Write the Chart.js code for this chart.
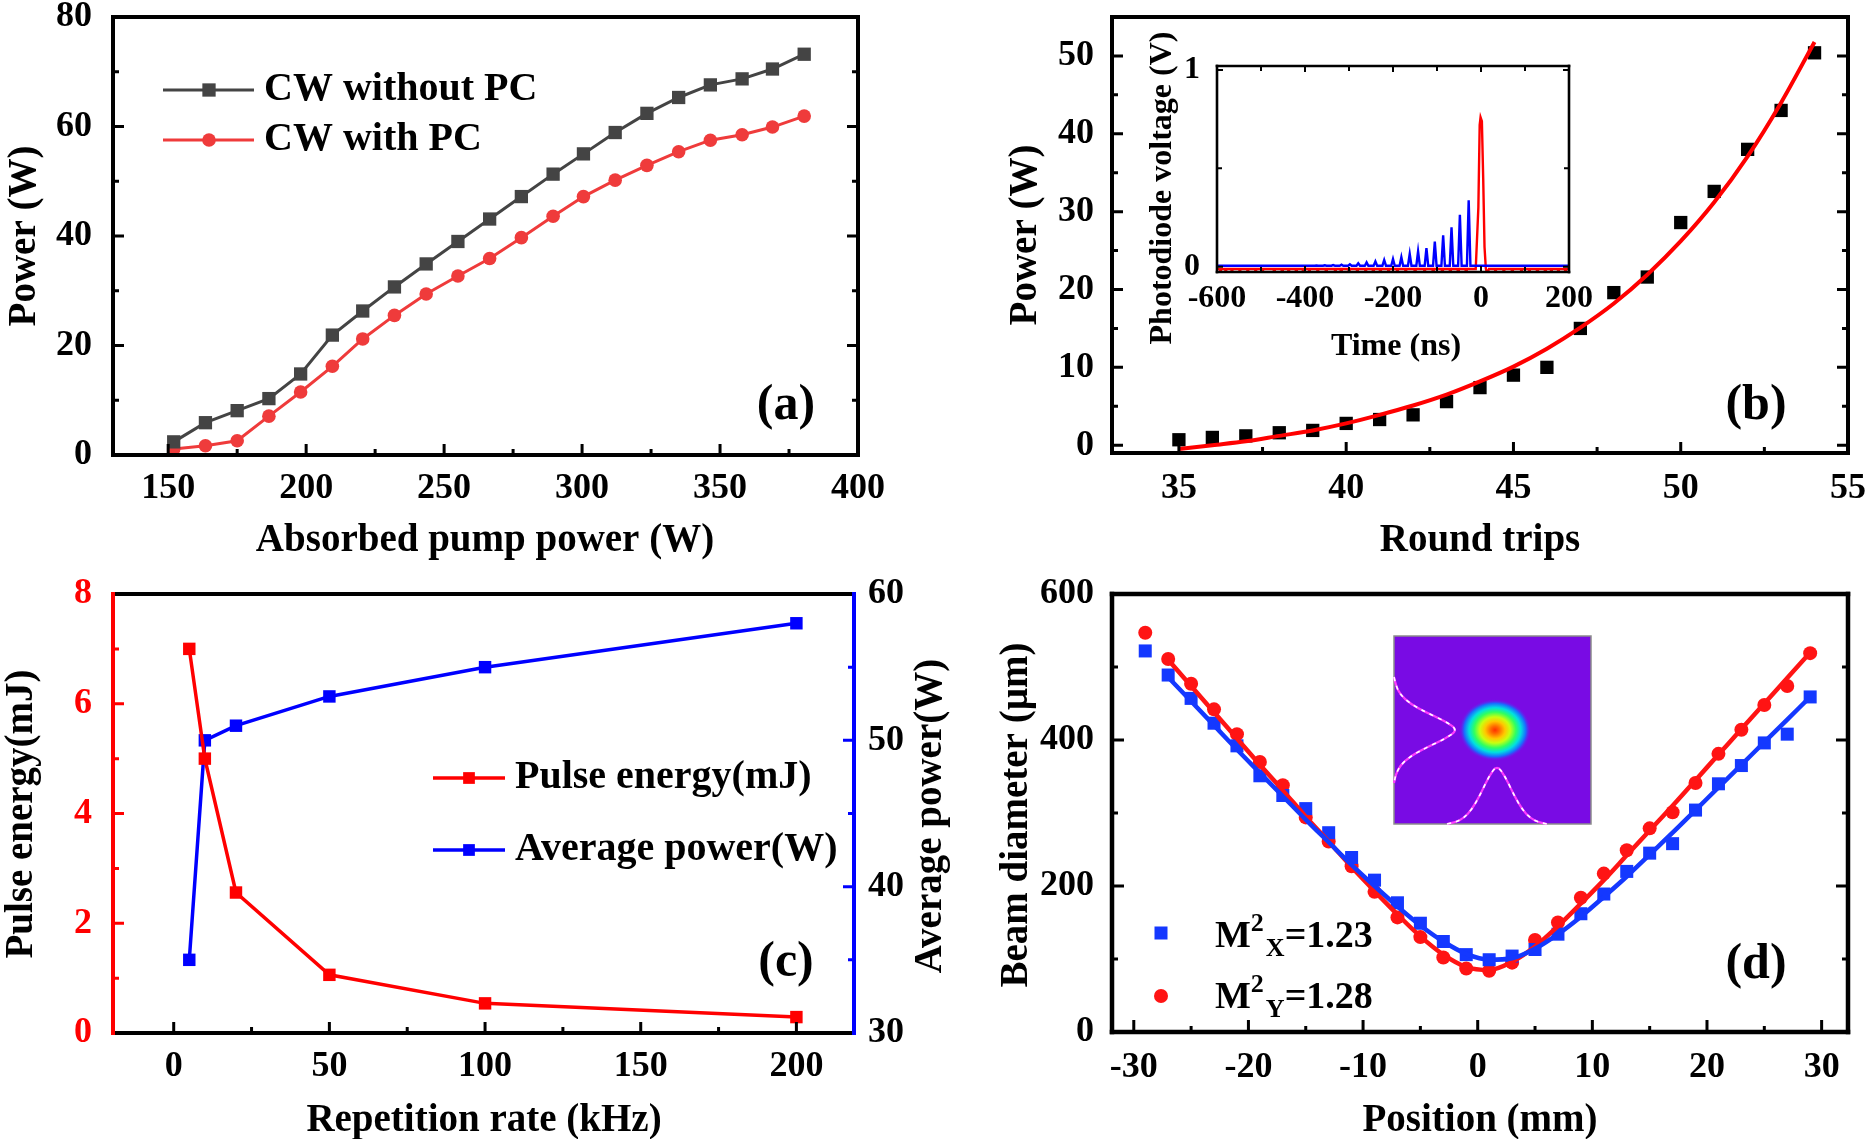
<!DOCTYPE html>
<html>
<head>
    <title>Laser output characterisation</title>
    <script src="https://cdn.jsdelivr.net/npm/chart.js"></script>
    <style>
        body { margin: 0; background: #fff; }
        #wrap { position: relative; width: 1867px; height: 1139px; overflow: hidden; background: #fff; }
        canvas { position: absolute; }
    </style>
</head>
<body>
<div id="wrap">
    <canvas id="chartA" width="933" height="569" style="left:0;top:0"></canvas>
    <canvas id="chartB" width="934" height="569" style="left:933px;top:0"></canvas>
    <canvas id="chartC" width="970" height="570" style="left:0;top:569px"></canvas>
    <canvas id="chartD" width="934" height="570" style="left:933px;top:569px"></canvas>
    <canvas id="insetB" width="500" height="360" style="left:1100px;top:20px"></canvas>
</div>
<script>
    const FONT = '"Liberation Serif", "Times New Roman", serif';

    // (a) CW output power vs absorbed pump power
    const pumpPower = [152, 163.5, 175, 186.5, 198, 209.5, 220.5, 232, 243.5, 255, 266.5, 278, 289.5, 300.5, 312, 323.5, 335, 346.5, 358, 369, 380.5];
    const cwWithoutPC = [2.4, 5.9, 8.1, 10.3, 14.8, 21.9, 26.3, 30.7, 34.9, 39.0, 43.1, 47.2, 51.3, 55.0, 58.9, 62.4, 65.3, 67.6, 68.7, 70.5, 73.2];
    const cwWithPC = [1.1, 1.7, 2.6, 7.1, 11.5, 16.2, 21.2, 25.5, 29.4, 32.7, 35.9, 39.7, 43.6, 47.2, 50.2, 52.9, 55.4, 57.5, 58.5, 59.9, 61.9];
    const pumpTicks = [150, 200, 250, 300, 350, 400];
    const powerTicksA = [0, 20, 40, 60, 80];

    // (b) pulse build-up over round trips
    const roundTrips = [35, 36, 37, 38, 39, 40, 41, 42, 43, 44, 45, 46, 47, 48, 49, 50, 51, 52, 53, 54];
    const tripPower = [0.7, 1.0, 1.2, 1.6, 1.9, 2.8, 3.3, 3.9, 5.6, 7.4, 9.0, 10.0, 15.0, 19.6, 21.6, 28.6, 32.6, 38.0, 43.0, 50.4];
    const fitPower = [-0.5, 0.0, 0.5, 1.2, 1.9, 2.8, 3.9, 5.1, 6.5, 8.2, 10.1, 12.4, 15.1, 18.2, 21.9, 26.2, 31.2, 37.1, 44.0, 51.8];
    const tripTicks = [35, 40, 45, 50, 55];
    const powerTicksB = [0, 10, 20, 30, 40, 50];

    // (b) inset: photodiode trace
    const pulseTimes = [-28, -48, -67, -86, -105, -124, -143, -162, -181, -200, -220, -240, -260, -279, -298, -317, -336, -355, -374, -393];
    const pulseHeights = [0.337, 0.264, 0.200, 0.160, 0.128, 0.095, 0.078, 0.065, 0.048, 0.039, 0.034, 0.027, 0.022, 0.017, 0.012, 0.010, 0.008, 0.007, 0.006, 0.005];
    const blueBase = 0.005;
    const mainPulseTime = [-12, -6, -3, -1, 2, 5, 8, 11, 14, 18];
    const mainPulseVolt = [-0.012, 0.30, 0.72, 0.76, 0.74, 0.45, 0.10, -0.010, -0.035, -0.012];
    const redBase = -0.012;
    const redDip = -0.032;
    const redDipTimes = [-592, -580, -566, -548, -530, -512, -497, -470, -452, -437, -420, -404, -390, -371, -352, -331, -318, -300, -281, -262, -245, -229, -210, -190, -171, -150, -128, -109, -88, -70, -52, -34, 33, 52, 71, 92, 110, 128, 146, 160, 176, 192];
    const timeTicks = [-600, -400, -200, 0, 200];
    const voltTicks = [0, 1];

    // (c) repetition rate
    const repRate = [5, 10, 20, 50, 100, 200];
    const pulseEnergy = [7.0, 5.0, 2.56, 1.06, 0.54, 0.29];
    const avgPower = [35.0, 50.0, 51.0, 53.0, 55.0, 58.0];
    const rateTicks = [0, 50, 100, 150, 200];
    const energyTicks = [0, 2, 4, 6, 8];
    const avgTicks = [30, 40, 50, 60];

    // (d) beam quality
    const position = [-29, -27, -25, -23, -21, -19, -17, -15, -13, -11, -9, -7, -5, -3, -1, 1, 3, 5, 7, 9, 11, 13, 15, 17, 19, 21, 23, 25, 27, 29];
    const diamX = [522, 489, 457, 423, 392, 351, 324, 306, 273, 239, 208, 177, 149, 124, 106, 99, 104, 113, 134, 162, 189, 220, 245, 258, 304, 340, 365, 396, 408, 459];
    const diamY = [547, 511, 477, 442, 408, 370, 338, 294, 261, 227, 192, 157, 130, 102, 87, 84, 95, 126, 150, 184, 217, 249, 279, 301, 341, 381, 414, 448, 474, 519];
    const fitPosition = [-27, -25, -23, -21, -19, -17, -15, -13, -11, -9, -7, -5, -3, -1, 1, 3, 5, 7, 9, 11, 13, 15, 17, 19, 21, 23, 25, 27, 29];
    const fitDiamX = [486, 453, 420, 387, 355, 323, 291, 260, 229, 200, 172, 146, 124, 107, 99, 101, 114, 134, 158, 185, 213, 243, 273, 304, 335, 366, 397, 428, 459];
    const fitDiamY = [510, 474, 438, 402, 366, 331, 295, 261, 226, 193, 161, 131, 106, 89, 85, 96, 117, 145, 176, 208, 242, 276, 310, 345, 380, 415, 450, 485, 520];
    const posTicks = [-30, -20, -10, 0, 10, 20, 30];
    const diamTicks = [0, 200, 400, 600];
    const beamProfile = [0, 0.03, 0.1, 0.25, 0.5, 0.8, 1, 0.8, 0.5, 0.25, 0.1, 0.03, 0];

    const xy = (xs, ys) => xs.map((x, i) => ({ x: x, y: ys[i] }));

    function axis(min, max, ticks, o) {
        return {
            type: 'linear', position: o.pos, min: min, max: max,
            grid: { display: false }, border: { display: false },
            afterBuildTicks: s => { s.ticks = ticks.map(v => ({ value: v })); },
            afterFit: s => {
                if (o.w !== undefined) s.width = o.w;
                if (o.h !== undefined) s.height = o.h;
                s.paddingLeft = 0; s.paddingRight = 0; s.paddingTop = 0; s.paddingBottom = 0;
            },
            ticks: {
                font: { family: FONT, size: o.size || 36, weight: 'bold', lineHeight: 1 },
                color: o.color || '#000', padding: o.pad, maxRotation: 0, autoSkip: false
            }
        };
    }

    function marker(ctx, style, x, y, r, color) {
        ctx.fillStyle = color;
        ctx.beginPath();
        if (style === 'circle') {
            ctx.arc(x, y, r, 0, Math.PI * 2);
        } else {
            const s = r * Math.SQRT1_2;
            ctx.rect(x - s, y - s, 2 * s, 2 * s);
        }
        ctx.fill();
    }

    // box with inward ticks, drawn over the data
    function frame(cfg) {
        return {
            id: 'frame',
            afterDatasetsDraw(chart) {
                const { ctx, chartArea: a } = chart;
                const lw = cfg.width;
                ctx.save();
                cfg.sides.forEach(sd => {
                    const sc = chart.scales[sd.axis];
                    const vals = sc.ticks.map(t => t.value);
                    const half = (vals[1] - vals[0]) / 2;
                    const marks = [[vals[0] - half, cfg.minor]];
                    vals.forEach(v => { marks.push([v, cfg.major]); marks.push([v + half, cfg.minor]); });
                    ctx.strokeStyle = sd.color || '#000';
                    ctx.lineWidth = cfg.tickWidth;
                    ctx.beginPath();
                    marks.forEach(m => {
                        const v = m[0], len = m[1];
                        if (v < sc.min - 1e-9 || v > sc.max + 1e-9) return;
                        const p = sc.getPixelForValue(v);
                        if (sd.side === 'bottom') { ctx.moveTo(p, a.bottom); ctx.lineTo(p, a.bottom - len); }
                        if (sd.side === 'top') { ctx.moveTo(p, a.top); ctx.lineTo(p, a.top + len); }
                        if (sd.side === 'left') { ctx.moveTo(a.left, p); ctx.lineTo(a.left + len, p); }
                        if (sd.side === 'right') { ctx.moveTo(a.right, p); ctx.lineTo(a.right - len, p); }
                    });
                    ctx.stroke();
                });
                const c = cfg.colors || {};
                ctx.lineWidth = lw;
                [['top', a.left - lw / 2, a.top, a.right + lw / 2, a.top],
                 ['bottom', a.left - lw / 2, a.bottom, a.right + lw / 2, a.bottom],
                 ['left', a.left, a.top - lw / 2, a.left, a.bottom + lw / 2],
                 ['right', a.right, a.top - lw / 2, a.right, a.bottom + lw / 2]].forEach(e => {
                    ctx.strokeStyle = c[e[0]] || '#000';
                    ctx.beginPath(); ctx.moveTo(e[1], e[2]); ctx.lineTo(e[3], e[4]); ctx.stroke();
                });
                ctx.restore();
            }
        };
    }

    function texts(items) {
        return {
            id: 'texts',
            afterDraw(chart) {
                const ctx = chart.ctx;
                items.forEach(it => {
                    ctx.save();
                    ctx.font = 'bold ' + it.size + 'px ' + FONT;
                    ctx.fillStyle = it.color || '#000';
                    ctx.textAlign = 'center';
                    ctx.textBaseline = 'middle';
                    ctx.translate(it.x, it.y);
                    if (it.rot) ctx.rotate(it.rot * Math.PI / 180);
                    ctx.fillText(it.text, 0, 0);
                    ctx.restore();
                });
            }
        };
    }

    function lineLegend(cfg) {
        return {
            id: 'lineLegend',
            afterDraw(chart) {
                const ctx = chart.ctx;
                cfg.rows.forEach(r => {
                    const ds = chart.data.datasets[r.dataset];
                    ctx.save();
                    ctx.strokeStyle = ds.borderColor;
                    ctx.lineWidth = ds.borderWidth;
                    ctx.beginPath(); ctx.moveTo(cfg.x1, r.y); ctx.lineTo(cfg.x2, r.y); ctx.stroke();
                    marker(ctx, ds.pointStyle, cfg.mx, r.y, r.size || ds.pointRadius, ds.pointBackgroundColor);
                    ctx.font = 'bold ' + cfg.size + 'px ' + FONT;
                    ctx.fillStyle = '#000';
                    ctx.textBaseline = 'middle';
                    ctx.fillText(ds.label, cfg.tx, r.y);
                    ctx.restore();
                });
            }
        };
    }

    // M^2 legend with super/subscripts
    function m2Legend(cfg) {
        return {
            id: 'm2Legend',
            afterDraw(chart) {
                const ctx = chart.ctx;
                cfg.rows.forEach(r => {
                    const ds = chart.data.datasets[r.dataset];
                    ctx.save();
                    marker(ctx, ds.pointStyle, cfg.mx, r.my, ds.pointRadius, ds.pointBackgroundColor);
                    ctx.fillStyle = '#000';
                    ctx.textBaseline = 'alphabetic';
                    let x = cfg.tx;
                    [['M', cfg.size, 0], ['2', cfg.small, -16], [r.sub, cfg.small, 9], [r.value, cfg.size, 0]].forEach(p => {
                        ctx.font = 'bold ' + p[1] + 'px ' + FONT;
                        ctx.fillText(p[0], x, r.base + p[2]);
                        x += ctx.measureText(p[0]).width + (p[0] === '2' ? 2 : 0);
                    });
                    ctx.restore();
                });
            }
        };
    }

    function smoothPath(ctx, pts) {
        ctx.beginPath();
        ctx.moveTo(pts[0][0], pts[0][1]);
        for (let i = 1; i < pts.length - 1; i++) {
            const mx = (pts[i][0] + pts[i + 1][0]) / 2, my = (pts[i][1] + pts[i + 1][1]) / 2;
            ctx.quadraticCurveTo(pts[i][0], pts[i][1], mx, my);
        }
        const last = pts[pts.length - 1];
        ctx.lineTo(last[0], last[1]);
        ctx.stroke();
    }

    // beam profile picture in (d)
    function beamImage(b) {
        return {
            id: 'beamImage',
            afterDatasetsDraw(chart) {
                const ctx = chart.ctx;
                ctx.save();
                ctx.fillStyle = '#790be4';
                ctx.fillRect(b.x, b.y, b.w, b.h);
                ctx.strokeStyle = '#8c8c8c'; ctx.lineWidth = 1.5;
                ctx.strokeRect(b.x, b.y, b.w, b.h);
                ctx.save();
                ctx.translate(b.cx, b.cy);
                ctx.scale(1, b.ry / b.rx);
                const g = ctx.createRadialGradient(0, 0, 0, 0, 0, b.rx);
                g.addColorStop(0, '#ff3000');
                g.addColorStop(0.12, '#ff6a00');
                g.addColorStop(0.28, '#ffc800');
                g.addColorStop(0.42, '#c8ff10');
                g.addColorStop(0.58, '#30ff60');
                g.addColorStop(0.72, '#00e0e0');
                g.addColorStop(0.86, '#1a6cff');
                g.addColorStop(1, 'rgba(121,11,228,0)');
                ctx.fillStyle = g;
                ctx.beginPath(); ctx.arc(0, 0, b.rx, 0, Math.PI * 2); ctx.fill();
                ctx.restore();
                const n = beamProfile.length - 1;
                const leftP = beamProfile.map((v, i) => [b.x + v * b.ampL, b.vy0 + i * (b.vy1 - b.vy0) / n]);
                const botP = beamProfile.map((v, i) => [b.hx0 + i * (b.hx1 - b.hx0) / n, b.y + b.h - v * b.ampB]);
                [leftP, botP].forEach(p => {
                    ctx.setLineDash([]); ctx.lineWidth = 2.2; ctx.strokeStyle = '#ff3cff';
                    smoothPath(ctx, p);
                    ctx.setLineDash([4, 5]); ctx.lineWidth = 1.6; ctx.strokeStyle = '#ffffff';
                    smoothPath(ctx, p);
                });
                ctx.restore();
            }
        };
    }

    const base = {
        responsive: false, animation: false, events: [],
        plugins: { legend: { display: false }, tooltip: { enabled: false } }
    };

    // ---------- (a)
    new Chart(document.getElementById('chartA'), {
        type: 'line',
        data: {
            datasets: [
                { label: 'CW without PC', data: xy(pumpPower, cwWithoutPC), borderColor: '#444444', backgroundColor: '#444444',
                  pointBackgroundColor: '#444444', pointBorderWidth: 0, borderWidth: 3, pointStyle: 'rect', pointRadius: 9.4 },
                { label: 'CW with PC', data: xy(pumpPower, cwWithPC), borderColor: '#ef3b3b', backgroundColor: '#ef3b3b',
                  pointBackgroundColor: '#ef3b3b', pointBorderWidth: 0, borderWidth: 3, pointStyle: 'circle', pointRadius: 6.8 }
            ]
        },
        options: Object.assign({}, base, {
            layout: { padding: { top: 17, right: 75, left: 0, bottom: 0 } },
            scales: {
                x: axis(130, 400, pumpTicks, { pos: 'bottom', h: 114, pad: 8 }),
                y: axis(0, 80, powerTicksA, { pos: 'left', w: 113, pad: 13 })
            }
        }),
        plugins: [
            frame({ width: 4, tickWidth: 3, major: 11, minor: 6, sides: [{ axis: 'x', side: 'bottom' }, { axis: 'y', side: 'left' }, { axis: 'y', side: 'right' }] }),
            lineLegend({ x1: 163, x2: 254, mx: 209, tx: 264, size: 40, rows: [{ dataset: 0, y: 90 }, { dataset: 1, y: 140 }] }),
            texts([
                { text: 'Power (W)', x: 25, y: 236, rot: -90, size: 39 },
                { text: 'Absorbed pump power (W)', x: 485, y: 541, size: 39 },
                { text: '(a)', x: 786, y: 406, size: 50 }
            ])
        ]
    });

    // ---------- (b)
    new Chart(document.getElementById('chartB'), {
        type: 'line',
        data: {
            datasets: [
                { label: 'Fit', data: xy(roundTrips, fitPower), borderColor: '#ff0000', borderWidth: 4, pointRadius: 0,
                  cubicInterpolationMode: 'monotone' },
                { label: 'Power', data: xy(roundTrips, tripPower), showLine: false, pointStyle: 'rect', pointRadius: 9.4,
                  pointBackgroundColor: '#000', pointBorderWidth: 0, borderColor: '#000' }
            ]
        },
        options: Object.assign({}, base, {
            layout: { padding: { top: 17, right: 19, left: 0, bottom: 0 } },
            scales: {
                x: axis(33, 55, tripTicks, { pos: 'bottom', h: 116, pad: 10 }),
                y: axis(-1, 55, powerTicksB, { pos: 'left', w: 179, pad: 10 })
            }
        }),
        plugins: [
            frame({ width: 4, tickWidth: 3, major: 11, minor: 6, sides: [{ axis: 'x', side: 'bottom' }, { axis: 'y', side: 'left' }, { axis: 'y', side: 'right' }] }),
            texts([
                { text: 'Power (W)', x: 93, y: 235, rot: -90, size: 39 },
                { text: 'Round trips', x: 547, y: 541, size: 39 },
                { text: '(b)', x: 823, y: 406, size: 50 }
            ])
        ]
    });

    // ---------- (b) inset
    const bluePts = [{ x: -600, y: blueBase }];
    pulseTimes.map((t, i) => [t, pulseHeights[i]]).sort((p, q) => p[0] - q[0]).forEach(p => {
        bluePts.push({ x: p[0] - 4, y: blueBase }, { x: p[0], y: p[1] }, { x: p[0] + 4, y: blueBase });
    });
    bluePts.push({ x: 200, y: blueBase });
    const redPts = [{ x: -600, y: redBase }, { x: 200, y: redBase }].concat(xy(mainPulseTime, mainPulseVolt));
    redDipTimes.forEach(d => redPts.push({ x: d - 1.5, y: redBase }, { x: d, y: redDip }, { x: d + 1.5, y: redBase }));
    redPts.sort((p, q) => p.x - q.x);

    new Chart(document.getElementById('insetB'), {
        type: 'line',
        data: {
            datasets: [
                { label: 'Seed', data: bluePts, borderColor: '#0000ff', borderWidth: 2.4, pointRadius: 0 },
                { label: 'Output', data: redPts, borderColor: '#ff0000', borderWidth: 2.4, pointRadius: 0 }
            ]
        },
        options: Object.assign({}, base, {
            layout: { padding: { top: 46, right: 31, left: 0, bottom: 0 } },
            scales: {
                x: axis(-600, 200, timeTicks, { pos: 'bottom', h: 108, pad: 3, size: 32 }),
                y: axis(-0.027, 1.02, voltTicks, { pos: 'left', w: 117, pad: 9, size: 32 })
            }
        }),
        plugins: [
            frame({ width: 2.6, tickWidth: 2, major: 6, minor: 5, sides: [{ axis: 'x', side: 'bottom' }, { axis: 'x', side: 'top' }, { axis: 'y', side: 'left' }, { axis: 'y', side: 'right' }] }),
            texts([
                { text: 'Photodiode voltage (V)', x: 63, y: 168, rot: -90, size: 32 },
                { text: 'Time (ns)', x: 296, y: 327, size: 32 }
            ])
        ]
    });

    // ---------- (c)
    new Chart(document.getElementById('chartC'), {
        type: 'line',
        data: {
            datasets: [
                { label: 'Pulse energy(mJ)', data: xy(repRate, pulseEnergy), yAxisID: 'y', borderColor: '#ff0000',
                  pointBackgroundColor: '#ff0000', pointBorderWidth: 0, borderWidth: 3.5, pointStyle: 'rect', pointRadius: 8.8 },
                { label: 'Average power(W)', data: xy(repRate, avgPower), yAxisID: 'y2', borderColor: '#0000ff',
                  pointBackgroundColor: '#0000ff', pointBorderWidth: 0, borderWidth: 3.5, pointStyle: 'rect', pointRadius: 8.8 }
            ]
        },
        options: Object.assign({}, base, {
            layout: { padding: { top: 25, right: 37, left: 0, bottom: 0 } },
            scales: {
                x: axis(-19.5, 218.5, rateTicks, { pos: 'bottom', h: 106, pad: 8 }),
                y: axis(0, 8, energyTicks, { pos: 'left', w: 113, pad: 13, color: '#ff0000' }),
                y2: axis(30, 60, avgTicks, { pos: 'right', w: 79, pad: 6 })
            }
        }),
        plugins: [
            frame({ width: 4, tickWidth: 3, major: 11, minor: 6, colors: { left: '#ff0000', right: '#0000ff' },
                    sides: [{ axis: 'x', side: 'bottom' }, { axis: 'y', side: 'left', color: '#ff0000' }, { axis: 'y2', side: 'right', color: '#0000ff' }] }),
            lineLegend({ x1: 433, x2: 505, mx: 469, tx: 515, size: 40, rows: [{ dataset: 0, y: 209, size: 8.3 }, { dataset: 1, y: 281, size: 8.3 }] }),
            texts([
                { text: 'Pulse energy(mJ)', x: 22, y: 245, rot: -90, size: 39 },
                { text: 'Average power(W)', x: 931, y: 247, rot: -90, size: 39 },
                { text: 'Repetition rate (kHz)', x: 484, y: 552, size: 39 },
                { text: '(c)', x: 786, y: 394, size: 50 }
            ])
        ]
    });

    // ---------- (d)
    new Chart(document.getElementById('chartD'), {
        type: 'line',
        data: {
            datasets: [
                { label: 'Fit X', data: xy(fitPosition, fitDiamX), borderColor: '#1438ff', borderWidth: 4.5, pointRadius: 0, cubicInterpolationMode: 'monotone' },
                { label: 'Fit Y', data: xy(fitPosition, fitDiamY), borderColor: '#ff1414', borderWidth: 4.5, pointRadius: 0, cubicInterpolationMode: 'monotone' },
                { label: 'X', data: xy(position, diamX), showLine: false, pointStyle: 'rect', pointRadius: 9.2,
                  pointBackgroundColor: '#1438ff', pointBorderWidth: 0, borderColor: '#1438ff' },
                { label: 'Y', data: xy(position, diamY), showLine: false, pointStyle: 'circle', pointRadius: 7,
                  pointBackgroundColor: '#ff1414', pointBorderWidth: 0, borderColor: '#ff1414' }
            ]
        },
        options: Object.assign({}, base, {
            layout: { padding: { top: 25, right: 19, left: 0, bottom: 0 } },
            scales: {
                x: axis(-31.9, 32.3, posTicks, { pos: 'bottom', h: 107, pad: 10 }),
                y: axis(0, 600, diamTicks, { pos: 'left', w: 179, pad: 10 })
            }
        }),
        plugins: [
            beamImage({ x: 461, y: 67, w: 197, h: 188, cx: 562, cy: 161, rx: 36, ry: 31,
                        ampL: 64, vy0: 108, vy1: 214, ampB: 59, hx0: 514, hx1: 614 }),
            frame({ width: 4.5, tickWidth: 3, major: 12, minor: 6, sides: [{ axis: 'x', side: 'bottom' }, { axis: 'y', side: 'left' }, { axis: 'y', side: 'right' }] }),
            m2Legend({ mx: 228, tx: 282, size: 38, small: 26, rows: [
                { dataset: 2, my: 364, base: 378, sub: 'X', value: '=1.23' },
                { dataset: 3, my: 427, base: 439, sub: 'Y', value: '=1.28' }
            ] }),
            texts([
                { text: 'Beam diameter (\u00b5m)', x: 84, y: 246, rot: -90, size: 39 },
                { text: 'Position (mm)', x: 547, y: 552, size: 39 },
                { text: '(d)', x: 823, y: 396, size: 50 }
            ])
        ]
    });
</script>
</body>
</html>
